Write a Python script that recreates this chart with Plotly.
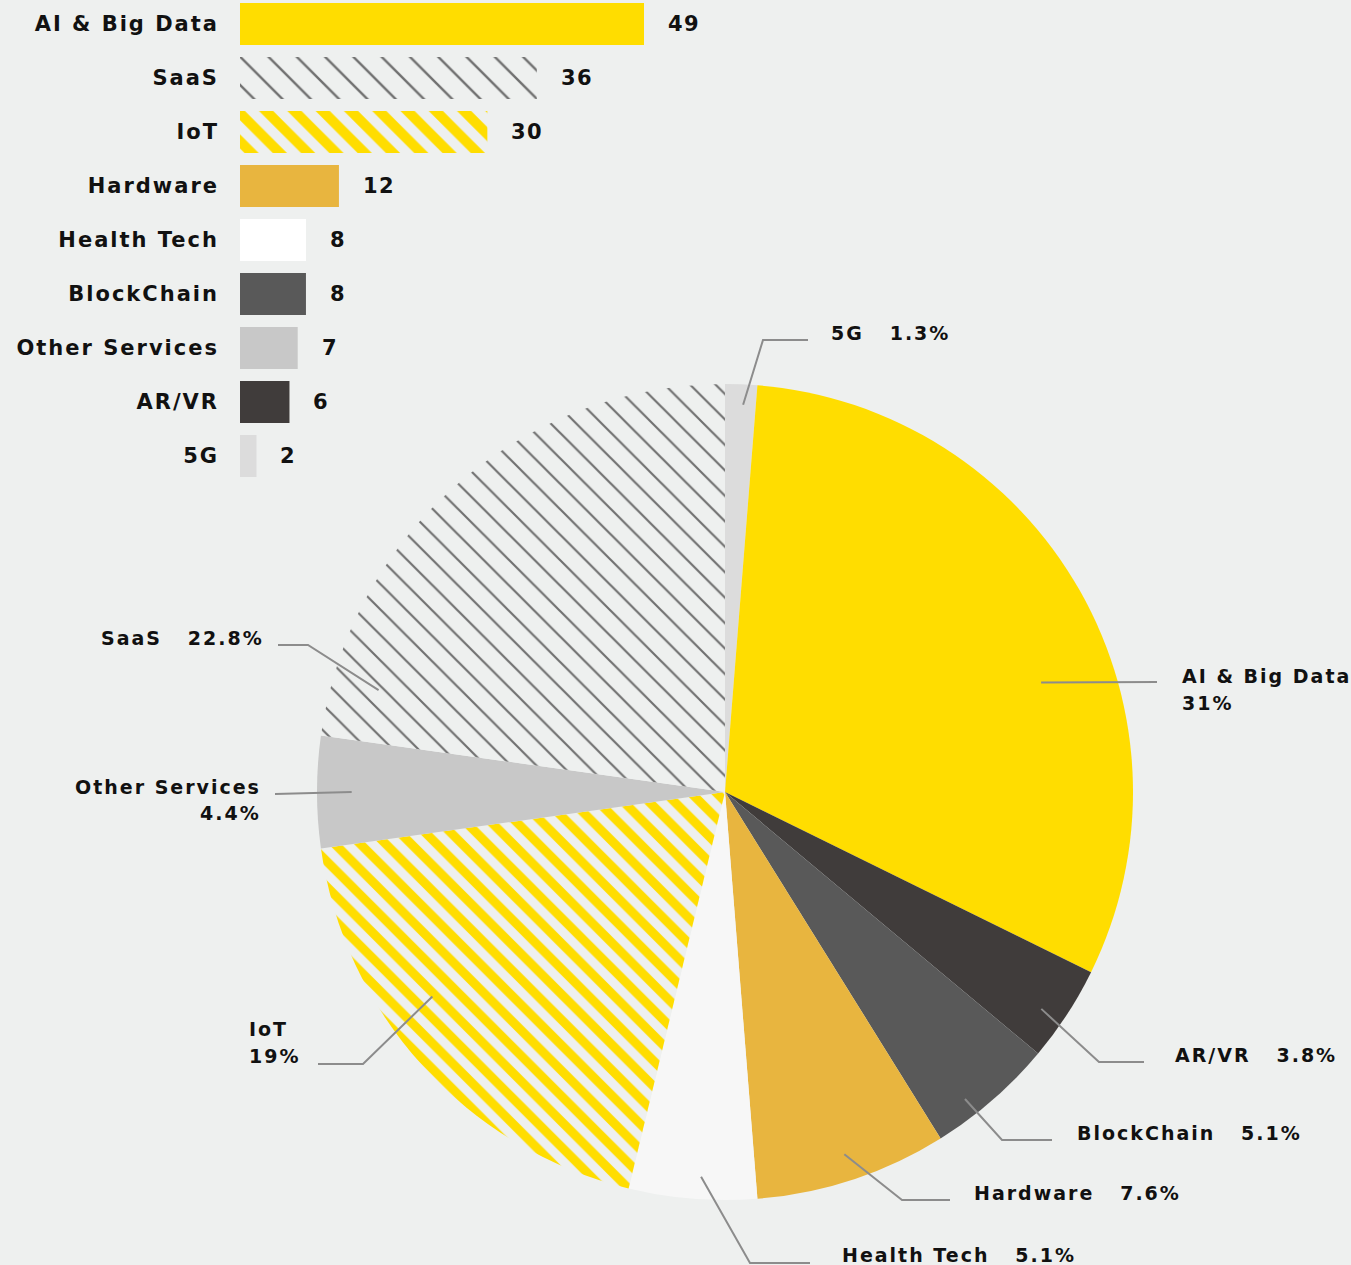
import math
import plotly.graph_objects as go

# ---------------- data ----------------
categories = ["AI & Big Data", "SaaS", "IoT", "Hardware", "Health Tech",
              "BlockChain", "Other Services", "AR/VR", "5G"]
counts = [49, 36, 30, 12, 8, 8, 7, 6, 2]
pie_order = ["5G", "AI & Big Data", "AR/VR", "BlockChain", "Hardware",
             "Health Tech", "IoT", "Other Services", "SaaS"]

# ---------------- style ----------------
W, H = 1351, 1265
BG = "#EEF0EF"
TXT = "#111111"
LEAD = "#8C8C8C"
FONT = "DejaVu Sans"

style = {
    "AI & Big Data":  dict(color="#FFDD00", shape="", fg="#FFDD00", bg="#FFDD00"),
    "SaaS":           dict(color=BG, shape="\\", fg="#707070", bg=BG, sol=0.12),
    "IoT":            dict(color=BG, shape="\\", fg="#FFDD00", bg=BG, sol=0.5),
    "Hardware":       dict(color="#E8B53F", shape="", fg="#E8B53F", bg="#E8B53F"),
    "Health Tech":    dict(color="#FFFFFF", pie="#F7F7F7", shape="", fg="#FFFFFF", bg="#FFFFFF"),
    "BlockChain":     dict(color="#595959", shape="", fg="#595959", bg="#595959"),
    "Other Services": dict(color="#C8C8C8", shape="", fg="#C8C8C8", bg="#C8C8C8"),
    "AR/VR":          dict(color="#403C3B", shape="", fg="#403C3B", bg="#403C3B"),
    "5G":             dict(color="#DCDCDC", shape="", fg="#DCDCDC", bg="#DCDCDC"),
}

# pie label layout (pixel positions of elbows / text), anchor angle offset & radius fraction
label_layout = {
    "5G":             dict(off=0.4,  r=0.95, pts=[(763, 340), (808, 340)], tx=829,  ty=333,  xa="left",  two=False),
    "AI & Big Data":  dict(off=10.5, r=0.82, pts=[(1157, 682)],             tx=1180, ty=689,  xa="left",  two=True),
    "AR/VR":          dict(off=1.4,  r=0.94, pts=[(1099, 1062), (1144, 1062)], tx=1173, ty=1055, xa="left", two=False),
    "BlockChain":     dict(off=3.0,  r=0.955, pts=[(1002, 1140), (1052, 1140)], tx=1075, ty=1133, xa="left", two=False),
    "Hardware":       dict(off=0.0,  r=0.935, pts=[(902, 1200), (950, 1200)], tx=972,  ty=1193, xa="left",  two=False),
    "Health Tech":    dict(off=-1.0, r=0.945, pts=[(750, 1263), (810, 1263)], tx=840,  ty=1255, xa="left",  two=False),
    "IoT":            dict(off=7.2,  r=0.875, pts=[(363, 1064), (318, 1064)], tx=247,  ty=1042, xa="left",  two=True),
    "Other Services": dict(off=0.0,  r=0.915, pts=[(275, 794)],             tx=263,  ty=800,  xa="right", two=True),
    "SaaS":           dict(off=-32.6, r=0.885, pts=[(308, 645), (278, 645)], tx=266,  ty=638,  xa="right", two=False),
}

CX, CY, R = 725, 792, 408
LINE_GAP = 27  # pixel distance between the two lines of a two-line label


def X(px):
    return px / W


def Y(py):
    return 1 - py / H


def spaced(s, ls=1.5):
    return f'<span style="letter-spacing:{ls}px">{s}</span>'


fig = go.Figure()

# ---------------- bar chart ----------------
for c, v in zip(categories, counts):
    st = style[c]
    pat = dict(shape=st["shape"])
    if st["shape"]:
        pat.update(fgcolor=st["fg"], bgcolor=st["bg"], solidity=st["sol"],
                   size=20, fgopacity=1, fillmode="replace")
    fig.add_trace(go.Bar(
        x=[v], y=[c], orientation="h",
        marker=dict(color=st["color"], line=dict(width=0), pattern=pat),
        width=42 / 54, xaxis="x", yaxis="y", hoverinfo="skip",
        showlegend=False,
    ))

fig.update_layout(
    barmode="overlay",
    xaxis=dict(domain=[X(240), X(644)], range=[0, 49], visible=False, fixedrange=True),
    yaxis=dict(domain=[Y(483), 1], range=[8.5, -24 / 54], type="category",
               categoryorder="array", categoryarray=categories,
               showgrid=False, zeroline=False, showline=False, ticks="",
               tickmode="array", tickvals=categories,
               ticktext=[spaced(c, 2.0) for c in categories],
               tickfont=dict(family=FONT, size=21, color=TXT, weight="bold"),
               ticklabelstandoff=20),
)

annotations = []
for c, v in zip(categories, counts):
    annotations.append(dict(
        x=v, y=c, xref="x", yref="y", xanchor="left", yanchor="middle",
        xshift=22, text=spaced(str(v), 1.5), showarrow=False,
        font=dict(family=FONT, size=21, color=TXT, weight="bold"),
    ))

# ---------------- pie chart ----------------
pie_vals = [counts[categories.index(c)] for c in pie_order]
total = sum(pie_vals)

fig.add_trace(go.Pie(
    labels=pie_order, values=pie_vals, sort=False, direction="clockwise",
    rotation=0, textinfo="none", hoverinfo="label+percent",
    domain=dict(x=[X(CX - R), X(CX + R)], y=[Y(CY + R), Y(CY - R)]),
    marker=dict(
        colors=[style[c].get("pie", style[c]["color"]) for c in pie_order],
        line=dict(width=0),
        pattern=dict(
            shape=[style[c]["shape"] for c in pie_order],
            fgcolor=[style[c]["fg"] for c in pie_order],
            bgcolor=[style[c].get("pie", style[c]["bg"]) for c in pie_order],
            solidity=[style[c].get("sol", 0.3) for c in pie_order],
            size=18,
        ),
    ),
    showlegend=False,
))

shapes = []
cum = 0.0
for c, v in zip(pie_order, pie_vals):
    ang0 = cum / total * 360
    cum += v
    ang1 = cum / total * 360
    mid = (ang0 + ang1) / 2
    L = label_layout[c]
    a = math.radians(mid + L["off"])
    ax = CX + L["r"] * R * math.sin(a)
    ay = CY - L["r"] * R * math.cos(a)
    pts = [(ax, ay)] + L["pts"]
    path = "M " + " L ".join(f"{X(px)},{Y(py)}" for px, py in pts)
    shapes.append(dict(type="path", xref="paper", yref="paper", path=path,
                       line=dict(color=LEAD, width=2)))
    pct = round(v / total * 100, 1)
    pct_s = (f"{pct:.1f}".rstrip("0").rstrip(".")) + "%"
    font = dict(family=FONT, size=19, color=TXT, weight="bold")
    if L["two"]:
        lines = [(c, L["ty"] - LINE_GAP / 2), (pct_s, L["ty"] + LINE_GAP / 2)]
    else:
        lines = [(c + "\u00a0\u00a0\u00a0" + pct_s, L["ty"])]
    for t, yy in lines:
        annotations.append(dict(
            x=X(L["tx"]), y=Y(yy), xref="paper", yref="paper",
            xanchor=L["xa"], yanchor="middle", align=L["xa"],
            text=spaced(t, 2.0), showarrow=False, font=font,
        ))

fig.update_layout(
    width=W, height=H,
    margin=dict(l=0, r=0, t=0, b=0),
    paper_bgcolor=BG, plot_bgcolor=BG,
    showlegend=False,
    annotations=annotations,
    shapes=shapes,
)

fig.write_html("out.html")
